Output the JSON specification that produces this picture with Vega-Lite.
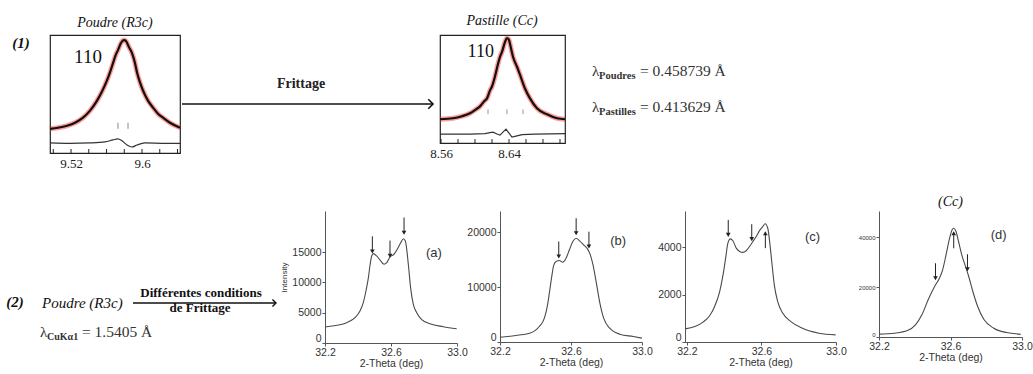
{
"$schema": "https://vega.github.io/schema/vega-lite/v6.json",
"background": "white",
"padding": {"left": 0, "top": 13, "right": 0, "bottom": 0},
"spacing": 23,
"config": {
  "view": {"stroke": null},
  "font": "Liberation Serif",
  "axis": {"grid": false, "domainColor": "#555", "tickColor": "#555", "tickSize": 3, "labelFont": "Liberation Sans Narrow, Liberation Sans", "labelFontSize": 10.5, "labelColor": "#333", "labelPadding": 1, "titleFont": "Liberation Sans Narrow, Liberation Sans", "titleFontSize": 10.5, "titleFontWeight": "normal", "titleColor": "#333", "titlePadding": 3, "labelOverlap": false, "labelFlush": false},
  "axisX": {"labelPadding": 1, "titlePadding": 1}
},
"datasets": {
  "p1": [
    {"x": 9.4963, "y": 20.5}, {"x": 9.5053, "y": 21.4}, {"x": 9.5155, "y": 23.1}, {"x": 9.5245, "y": 25.6},
    {"x": 9.5335, "y": 29.9}, {"x": 9.5414, "y": 35.9}, {"x": 9.5493, "y": 44.4}, {"x": 9.5549, "y": 52.1},
    {"x": 9.5605, "y": 61.5}, {"x": 9.5639, "y": 68.4}, {"x": 9.5673, "y": 76.1}, {"x": 9.5707, "y": 83.8},
    {"x": 9.5729, "y": 87.2}, {"x": 9.5763, "y": 93.2}, {"x": 9.5797, "y": 95.7}, {"x": 9.5819, "y": 94.9},
    {"x": 9.5853, "y": 89.7}, {"x": 9.5887, "y": 84.6}, {"x": 9.5921, "y": 76.1}, {"x": 9.5943, "y": 68.4},
    {"x": 9.5977, "y": 59.8}, {"x": 9.6011, "y": 53.0}, {"x": 9.6067, "y": 44.4}, {"x": 9.6124, "y": 38.5},
    {"x": 9.6180, "y": 33.3}, {"x": 9.6236, "y": 29.9}, {"x": 9.6315, "y": 25.6}, {"x": 9.6428, "y": 21.4}
  ],
  "p1diff": [
    {"x": 9.4963, "y": 8.5}, {"x": 9.5188, "y": 8.1}, {"x": 9.5414, "y": 8.5}, {"x": 9.5583, "y": 9.4},
    {"x": 9.5673, "y": 11.1}, {"x": 9.5729, "y": 12.0}, {"x": 9.5774, "y": 10.3}, {"x": 9.5831, "y": 6.8},
    {"x": 9.5887, "y": 5.1}, {"x": 9.5943, "y": 6.8}, {"x": 9.6033, "y": 8.5}, {"x": 9.6259, "y": 8.1},
    {"x": 9.6428, "y": 8.1}
  ],
  "p1bragg": [{"x": 9.5729}, {"x": 9.5842}],
  "p1ticks": [{"t": 9.50}, {"t": 9.52}, {"t": 9.54}, {"t": 9.56}, {"t": 9.58}, {"t": 9.60}, {"t": 9.62}, {"t": 9.64}],
  "p2": [
    {"x": 8.5588, "y": 22.0}, {"x": 8.5741, "y": 22.9}, {"x": 8.5847, "y": 24.8}, {"x": 8.5941, "y": 27.5},
    {"x": 8.6012, "y": 31.2}, {"x": 8.6059, "y": 33.9}, {"x": 8.6106, "y": 38.5}, {"x": 8.6141, "y": 41.3},
    {"x": 8.6176, "y": 48.6}, {"x": 8.6200, "y": 52.3}, {"x": 8.6235, "y": 61.5}, {"x": 8.6271, "y": 73.4},
    {"x": 8.6294, "y": 79.8}, {"x": 8.6318, "y": 84.4}, {"x": 8.6353, "y": 93.6}, {"x": 8.6376, "y": 97.2},
    {"x": 8.6400, "y": 95.4}, {"x": 8.6412, "y": 91.7}, {"x": 8.6447, "y": 79.8}, {"x": 8.6494, "y": 70.6},
    {"x": 8.6529, "y": 63.3}, {"x": 8.6588, "y": 50.5}, {"x": 8.6647, "y": 41.3}, {"x": 8.6729, "y": 32.1},
    {"x": 8.6847, "y": 26.6}, {"x": 8.6965, "y": 22.9}, {"x": 8.7059, "y": 22.0}
  ],
  "p2diff": [
    {"x": 8.5588, "y": 8.3}, {"x": 8.5941, "y": 8.3}, {"x": 8.6118, "y": 8.7}, {"x": 8.6176, "y": 9.6},
    {"x": 8.6212, "y": 10.1}, {"x": 8.6259, "y": 8.3}, {"x": 8.6294, "y": 7.3}, {"x": 8.6329, "y": 10.1},
    {"x": 8.6365, "y": 12.8}, {"x": 8.6400, "y": 9.2}, {"x": 8.6435, "y": 5.5}, {"x": 8.6482, "y": 6.4},
    {"x": 8.6553, "y": 7.8}, {"x": 8.6706, "y": 8.3}, {"x": 8.7059, "y": 8.7}
  ],
  "p2bragg": [{"x": 8.6153}, {"x": 8.6376}, {"x": 8.6565}],
  "p2ticks": [{"t": 8.56}, {"t": 8.58}, {"t": 8.60}, {"t": 8.62}, {"t": 8.64}, {"t": 8.66}, {"t": 8.68}, {"t": 8.70}],
  "a": [
    {"x": 32.200, "y": 2640}, {"x": 32.271, "y": 2920}, {"x": 32.331, "y": 3350}, {"x": 32.382, "y": 4170},
    {"x": 32.412, "y": 5280}, {"x": 32.432, "y": 6650}, {"x": 32.448, "y": 8580}, {"x": 32.463, "y": 10780},
    {"x": 32.473, "y": 12870}, {"x": 32.483, "y": 14360}, {"x": 32.493, "y": 14740}, {"x": 32.513, "y": 14360},
    {"x": 32.533, "y": 13700}, {"x": 32.558, "y": 12990}, {"x": 32.574, "y": 13250}, {"x": 32.594, "y": 14190},
    {"x": 32.618, "y": 14640}, {"x": 32.638, "y": 15460}, {"x": 32.659, "y": 16550}, {"x": 32.675, "y": 17210},
    {"x": 32.687, "y": 16830}, {"x": 32.705, "y": 13000}, {"x": 32.719, "y": 9100}, {"x": 32.735, "y": 6400},
    {"x": 32.756, "y": 5000}, {"x": 32.786, "y": 3860}, {"x": 32.836, "y": 3180}, {"x": 32.917, "y": 2690},
    {"x": 32.998, "y": 2360}
  ],
  "b": [
    {"x": 32.200, "y": 870}, {"x": 32.289, "y": 1180}, {"x": 32.367, "y": 1600}, {"x": 32.421, "y": 2820},
    {"x": 32.450, "y": 4330}, {"x": 32.468, "y": 6760}, {"x": 32.482, "y": 9780}, {"x": 32.493, "y": 12210},
    {"x": 32.502, "y": 13900}, {"x": 32.516, "y": 14630}, {"x": 32.535, "y": 14810}, {"x": 32.553, "y": 14500},
    {"x": 32.572, "y": 15230}, {"x": 32.591, "y": 16760}, {"x": 32.610, "y": 18270}, {"x": 32.629, "y": 18870},
    {"x": 32.648, "y": 18400}, {"x": 32.671, "y": 17670}, {"x": 32.690, "y": 17050}, {"x": 32.709, "y": 15850},
    {"x": 32.724, "y": 14030}, {"x": 32.743, "y": 10690}, {"x": 32.761, "y": 7360}, {"x": 32.784, "y": 4330},
    {"x": 32.818, "y": 2510}, {"x": 32.875, "y": 1420}, {"x": 32.951, "y": 1000}, {"x": 33.000, "y": 700}
  ],
  "c": [
    {"x": 32.190, "y": 555}, {"x": 32.243, "y": 650}, {"x": 32.287, "y": 840}, {"x": 32.323, "y": 1120},
    {"x": 32.349, "y": 1500}, {"x": 32.376, "y": 2130}, {"x": 32.394, "y": 2830}, {"x": 32.408, "y": 3540},
    {"x": 32.420, "y": 4170}, {"x": 32.433, "y": 4350}, {"x": 32.447, "y": 4270}, {"x": 32.465, "y": 3960},
    {"x": 32.483, "y": 3820}, {"x": 32.500, "y": 3780}, {"x": 32.518, "y": 3850}, {"x": 32.536, "y": 4030},
    {"x": 32.554, "y": 4240}, {"x": 32.572, "y": 4450}, {"x": 32.589, "y": 4690}, {"x": 32.607, "y": 4870},
    {"x": 32.620, "y": 4990}, {"x": 32.634, "y": 4800}, {"x": 32.646, "y": 4100}, {"x": 32.657, "y": 3260},
    {"x": 32.669, "y": 2410}, {"x": 32.687, "y": 1710}, {"x": 32.714, "y": 1220}, {"x": 32.758, "y": 860},
    {"x": 32.820, "y": 580}, {"x": 32.909, "y": 370}, {"x": 32.998, "y": 300}
  ],
  "d": [
    {"x": 32.200, "y": 1130}, {"x": 32.287, "y": 1530}, {"x": 32.359, "y": 2600}, {"x": 32.404, "y": 4870},
    {"x": 32.440, "y": 8870}, {"x": 32.475, "y": 14870}, {"x": 32.511, "y": 20200}, {"x": 32.538, "y": 23530},
    {"x": 32.556, "y": 26870}, {"x": 32.577, "y": 33530}, {"x": 32.595, "y": 39530}, {"x": 32.609, "y": 42870},
    {"x": 32.618, "y": 43530}, {"x": 32.631, "y": 42200}, {"x": 32.645, "y": 38200}, {"x": 32.663, "y": 32870},
    {"x": 32.681, "y": 28870}, {"x": 32.702, "y": 24200}, {"x": 32.725, "y": 18200}, {"x": 32.752, "y": 12200},
    {"x": 32.788, "y": 6870}, {"x": 32.842, "y": 3530}, {"x": 32.913, "y": 1800}, {"x": 32.994, "y": 1130}
  ],
  "arrows": [
    {"panel": "a", "x": 32.487, "tip": 15100, "tail": 17600, "dir": "down"},
    {"panel": "a", "x": 32.594, "tip": 14400, "tail": 16900, "dir": "down"},
    {"panel": "a", "x": 32.679, "tip": 18200, "tail": 20700, "dir": "down"},
    {"panel": "b", "x": 32.531, "tip": 15540, "tail": 18270, "dir": "down"},
    {"panel": "b", "x": 32.629, "tip": 19780, "tail": 22500, "dir": "down"},
    {"panel": "b", "x": 32.701, "tip": 17360, "tail": 20060, "dir": "down"},
    {"panel": "c", "x": 32.422, "tip": 4520, "tail": 5150, "dir": "down"},
    {"panel": "c", "x": 32.548, "tip": 4340, "tail": 4970, "dir": "down"},
    {"panel": "c", "x": 32.621, "tip": 4590, "tail": 3960, "dir": "up"},
    {"panel": "d", "x": 32.516, "tip": 23530, "tail": 29500, "dir": "down"},
    {"panel": "d", "x": 32.618, "tip": 41530, "tail": 35500, "dir": "up"},
    {"panel": "d", "x": 32.695, "tip": 27130, "tail": 33100, "dir": "down"}
  ]
},
"vconcat": [
 {"hconcat": [
   {
    "width": 50, "height": 118,
    "data": {"values": [{"label": "(1)"}]},
    "mark": {"type": "text", "font": "Liberation Serif", "fontSize": 15, "fontWeight": "bold", "fontStyle": "italic", "color": "#111"},
    "encoding": {
      "x": {"datum": 21, "type": "quantitative", "scale": {"domain": [0, 50], "nice": false, "zero": false}, "axis": null},
      "y": {"datum": 8, "type": "quantitative", "scale": {"domain": [0, 118], "nice": false, "reverse": true}, "axis": null},
      "text": {"field": "label"}
    }
   },
   {
    "width": 130, "height": 118,
    "view": {"stroke": "#222", "strokeWidth": 1.2},
    "layer": [
      {"data": {"name": "p1"}, "mark": {"type": "line", "color": "#ff2a22", "strokeWidth": 5, "opacity": 0.45, "interpolate": "monotone"},
       "encoding": {
         "x": {"field": "x", "type": "quantitative", "scale": {"domain": [9.4963, 9.6428], "nice": false, "zero": false},
           "axis": {"title": null, "values": [9.52, 9.6], "format": ".2~f", "ticks": false, "domain": false,
             "labelFont": "Liberation Serif", "labelFontSize": 13, "labelColor": "#222", "labelPadding": 4}},
         "y": {"field": "y", "type": "quantitative", "scale": {"domain": [0, 100], "nice": false, "zero": false}, "axis": null}
       }},
      {"data": {"name": "p1"}, "mark": {"type": "line", "color": "#111", "strokeWidth": 2.2, "interpolate": "monotone"},
       "encoding": {"x": {"field": "x", "type": "quantitative"}, "y": {"field": "y", "type": "quantitative"}}},
      {"data": {"name": "p1diff"}, "mark": {"type": "line", "color": "#333", "strokeWidth": 1.2, "interpolate": "monotone"},
       "encoding": {"x": {"field": "x", "type": "quantitative"}, "y": {"field": "y", "type": "quantitative"}}},
      {"data": {"name": "p1bragg"}, "mark": {"type": "rule", "color": "#888", "strokeWidth": 1},
       "encoding": {"x": {"field": "x", "type": "quantitative"}, "y": {"datum": 20.5, "type": "quantitative"}, "y2": {"datum": 25.6}}},
      {"data": {"name": "p1ticks"}, "mark": {"type": "rule", "color": "#222", "strokeWidth": 1},
       "encoding": {"x": {"field": "t", "type": "quantitative"}, "y": {"datum": 0, "type": "quantitative"}, "y2": {"datum": 3.4}}},
      {"data": {"values": [{"label": "110", "title": "Poudre (R3c)"}]}, "layer": [
        {"mark": {"type": "text", "font": "Liberation Serif", "fontSize": 19, "color": "#111"},
         "encoding": {"x": {"datum": 9.5391, "type": "quantitative"}, "y": {"datum": 81, "type": "quantitative"}, "text": {"field": "label"}}},
        {"mark": {"type": "text", "font": "Liberation Serif", "fontSize": 14, "fontStyle": "italic", "color": "#111", "baseline": "alphabetic"},
         "encoding": {"x": {"datum": 9.5695, "type": "quantitative"}, "y": {"datum": 106.5, "type": "quantitative"}, "text": {"field": "title"}}}
      ]}
    ]
   },
   {
    "width": 260, "height": 118,
    "data": {"values": [{"label": "Frittage"}]},
    "layer": [
      {"mark": {"type": "rule", "color": "#111", "strokeWidth": 1.6},
       "encoding": {
         "x": {"datum": 2, "type": "quantitative", "scale": {"domain": [0, 260], "nice": false, "zero": false}, "axis": null},
         "x2": {"datum": 253},
         "y": {"datum": 69, "type": "quantitative", "scale": {"domain": [0, 118], "nice": false, "reverse": true}, "axis": null}}},
      {"mark": {"type": "point", "shape": "M-1,-1L0,0L-1,1", "size": 90, "filled": false, "color": "#111", "strokeWidth": 1.6, "opacity": 1},
       "encoding": {"x": {"datum": 253, "type": "quantitative"}, "y": {"datum": 69, "type": "quantitative"}}},
      {"mark": {"type": "text", "font": "Liberation Serif", "fontWeight": "bold", "fontSize": 14, "color": "#222", "baseline": "alphabetic"},
       "encoding": {"x": {"datum": 121, "type": "quantitative"}, "y": {"datum": 53, "type": "quantitative"}, "text": {"field": "label"}}}
    ]
   },
   {
    "width": 125, "height": 108,
    "view": {"stroke": "#222", "strokeWidth": 1.2},
    "layer": [
      {"data": {"name": "p2"}, "mark": {"type": "line", "color": "#ff2a22", "strokeWidth": 5, "opacity": 0.45, "interpolate": "monotone"},
       "encoding": {
         "x": {"field": "x", "type": "quantitative", "scale": {"domain": [8.5588, 8.7059], "nice": false, "zero": false},
           "axis": {"title": null, "values": [8.56, 8.64], "format": ".2~f", "ticks": false, "domain": false,
             "labelFont": "Liberation Serif", "labelFontSize": 13, "labelColor": "#222", "labelPadding": 4}},
         "y": {"field": "y", "type": "quantitative", "scale": {"domain": [0, 100], "nice": false, "zero": false}, "axis": null}
       }},
      {"data": {"name": "p2"}, "mark": {"type": "line", "color": "#111", "strokeWidth": 2.2, "interpolate": "monotone"},
       "encoding": {"x": {"field": "x", "type": "quantitative"}, "y": {"field": "y", "type": "quantitative"}}},
      {"data": {"name": "p2diff"}, "mark": {"type": "line", "color": "#333", "strokeWidth": 1.2, "interpolate": "linear"},
       "encoding": {"x": {"field": "x", "type": "quantitative"}, "y": {"field": "y", "type": "quantitative"}}},
      {"data": {"name": "p2bragg"}, "mark": {"type": "rule", "color": "#999", "strokeWidth": 1},
       "encoding": {"x": {"field": "x", "type": "quantitative"}, "y": {"datum": 26.6, "type": "quantitative"}, "y2": {"datum": 31.2}}},
      {"data": {"name": "p2ticks"}, "mark": {"type": "rule", "color": "#222", "strokeWidth": 1},
       "encoding": {"x": {"field": "t", "type": "quantitative"}, "y": {"datum": 0, "type": "quantitative"}, "y2": {"datum": 3.7}}},
      {"data": {"values": [{"label": "110", "title": "Pastille (Cc)"}]}, "layer": [
        {"mark": {"type": "text", "font": "Liberation Serif", "fontSize": 18, "color": "#111"},
         "encoding": {"x": {"datum": 8.6068, "type": "quantitative"}, "y": {"datum": 84, "type": "quantitative"}, "text": {"field": "label"}}},
        {"mark": {"type": "text", "font": "Liberation Serif", "fontSize": 14, "fontStyle": "italic", "color": "#111", "baseline": "alphabetic"},
         "encoding": {"x": {"datum": 8.6318, "type": "quantitative"}, "y": {"datum": 109, "type": "quantitative"}, "text": {"field": "title"}}}
      ]}
    ]
   },
   {
    "width": 195, "height": 118,
    "data": {"values": [
      {"line": "1", "sym": "λ", "sub": "Poudres", "val": "= 0.458739 Å"},
      {"line": "2", "sym": "λ", "sub": "Pastilles", "val": "= 0.413629 Å"}
    ]},
    "encoding": {"y": {"field": "line", "type": "ordinal", "scale": {"type": "point", "range": [41, 77], "padding": 0}, "axis": null}},
    "layer": [
      {"mark": {"type": "text", "align": "left", "baseline": "alphabetic", "font": "Liberation Serif", "fontSize": 15, "color": "#333"},
       "encoding": {"x": {"datum": 27, "type": "quantitative", "scale": {"domain": [0, 195], "nice": false, "zero": false}, "axis": null}, "text": {"field": "sym"}}},
      {"mark": {"type": "text", "align": "left", "baseline": "alphabetic", "font": "Liberation Serif", "fontSize": 10.5, "fontWeight": "bold", "color": "#333", "dy": 3},
       "encoding": {"x": {"datum": 34, "type": "quantitative"}, "text": {"field": "sub"}}},
      {"mark": {"type": "text", "align": "left", "baseline": "alphabetic", "font": "Liberation Serif", "fontSize": 15.5, "color": "#333"},
       "encoding": {"x": {"datum": 75, "type": "quantitative"}, "text": {"field": "val"}}}
    ]
   }
  ], "spacing": 0, "bounds": "flush"},
 {"hconcat": [
   {
    "width": 282, "height": 132,
    "data": {"values": [{"num": "(2)", "from": "Poudre (R3c)", "top": "Différentes conditions", "bottom": "de Frittage", "sym": "λ", "sub": "CuKα1", "val": "= 1.5405 Å"}]},
    "layer": [
      {"mark": {"type": "text", "align": "center", "baseline": "alphabetic", "font": "Liberation Serif", "fontSize": 15, "fontWeight": "bold", "fontStyle": "italic", "color": "#111"},
       "encoding": {
         "x": {"datum": 15, "type": "quantitative", "scale": {"domain": [0, 282], "nice": false, "zero": false}, "axis": null},
         "y": {"datum": 96, "type": "quantitative", "scale": {"domain": [0, 132], "nice": false, "reverse": true}, "axis": null},
         "text": {"field": "num"}}},
      {"mark": {"type": "text", "align": "left", "baseline": "alphabetic", "font": "Liberation Serif", "fontSize": 15, "fontStyle": "italic", "color": "#111"},
       "encoding": {"x": {"datum": 42, "type": "quantitative"}, "y": {"datum": 97, "type": "quantitative"}, "text": {"field": "from"}}},
      {"mark": {"type": "text", "align": "center", "baseline": "alphabetic", "font": "Liberation Serif", "fontSize": 13, "fontWeight": "bold", "color": "#111"},
       "encoding": {"x": {"datum": 201, "type": "quantitative"}, "y": {"datum": 86, "type": "quantitative"}, "text": {"field": "top"}}},
      {"mark": {"type": "rule", "color": "#111", "strokeWidth": 1.3},
       "encoding": {"x": {"datum": 133, "type": "quantitative"}, "x2": {"datum": 276}, "y": {"datum": 92, "type": "quantitative"}}},
      {"mark": {"type": "point", "shape": "M-1,-1L0,0L-1,1", "size": 50, "filled": false, "color": "#111", "strokeWidth": 1.4, "opacity": 1},
       "encoding": {"x": {"datum": 276, "type": "quantitative"}, "y": {"datum": 92, "type": "quantitative"}}},
      {"mark": {"type": "text", "align": "center", "baseline": "alphabetic", "font": "Liberation Serif", "fontSize": 13, "fontWeight": "bold", "color": "#111"},
       "encoding": {"x": {"datum": 200, "type": "quantitative"}, "y": {"datum": 101, "type": "quantitative"}, "text": {"field": "bottom"}}},
      {"mark": {"type": "text", "align": "left", "baseline": "alphabetic", "font": "Liberation Serif", "fontSize": 15, "color": "#333"},
       "encoding": {"x": {"datum": 40, "type": "quantitative"}, "y": {"datum": 126, "type": "quantitative"}, "text": {"field": "sym"}}},
      {"mark": {"type": "text", "align": "left", "baseline": "alphabetic", "font": "Liberation Serif", "fontSize": 10, "fontWeight": "bold", "color": "#333", "dy": 3},
       "encoding": {"x": {"datum": 47, "type": "quantitative"}, "y": {"datum": 126, "type": "quantitative"}, "text": {"field": "sub"}}},
      {"mark": {"type": "text", "align": "left", "baseline": "alphabetic", "font": "Liberation Serif", "fontSize": 15.5, "color": "#333"},
       "encoding": {"x": {"datum": 82, "type": "quantitative"}, "y": {"datum": 126, "type": "quantitative"}, "text": {"field": "val"}}}
    ]
   },
   {
    "width": 132, "height": 132,
    "layer": [
      {"data": {"name": "a"}, "mark": {"type": "line", "color": "#4a4a4a", "strokeWidth": 1.1, "interpolate": "monotone"},
       "encoding": {
         "x": {"field": "x", "type": "quantitative", "scale": {"domain": [32.2, 33.0], "nice": false, "zero": false}, "axis": {"title": "2-Theta (deg)", "values": [32.2, 32.4, 32.6, 32.8, 33.0], "format": ".1f"}},
         "y": {"field": "y", "type": "quantitative", "scale": {"domain": [0, 21780], "nice": false}, "axis": {"title": "Intensity", "values": [0, 5000, 10000, 15000], "format": "d", "titleFontSize": 8, "labelBaseline": {"condition": {"test": "datum.value === 0", "value": "bottom"}, "value": "middle"}}}}},
      {"data": {"name": "arrows"}, "transform": [{"filter": "datum.panel === 'a'"}], "mark": {"type": "rule", "color": "#222", "strokeWidth": 1},
       "encoding": {"x": {"field": "x", "type": "quantitative"}, "y": {"field": "tail", "type": "quantitative"}, "y2": {"field": "tip"}}},
      {"data": {"name": "arrows"}, "transform": [{"filter": "datum.panel === 'a'"}], "mark": {"type": "point", "filled": true, "color": "#222", "size": 22, "opacity": 1},
       "encoding": {"x": {"field": "x", "type": "quantitative"}, "y": {"field": "tip", "type": "quantitative"}, "shape": {"field": "dir", "type": "nominal", "scale": {"domain": ["down", "up"], "range": ["triangle-down", "triangle-up"]}, "legend": null}}},
      {"data": {"values": [{"label": "(a)"}]}, "mark": {"type": "text", "font": "Liberation Sans", "fontSize": 13, "color": "#333"},
       "encoding": {"x": {"datum": 32.86, "type": "quantitative"}, "y": {"datum": 14900, "type": "quantitative"}, "text": {"field": "label"}}}
    ]
   },
   {
    "width": 142, "height": 131,
    "layer": [
      {"data": {"name": "b"}, "mark": {"type": "line", "color": "#4a4a4a", "strokeWidth": 1.1, "interpolate": "monotone"},
       "encoding": {
         "x": {"field": "x", "type": "quantitative", "scale": {"domain": [32.2, 33.0], "nice": false, "zero": false}, "axis": {"title": "2-Theta (deg)", "values": [32.2, 32.4, 32.6, 32.8, 33.0], "format": ".1f"}},
         "y": {"field": "y", "type": "quantitative", "scale": {"domain": [0, 23820], "nice": false}, "axis": {"title": null, "values": [0, 5000, 10000, 15000, 20000], "format": "d", "labelBaseline": {"condition": {"test": "datum.value === 0", "value": "bottom"}, "value": "middle"}}}}},
      {"data": {"name": "arrows"}, "transform": [{"filter": "datum.panel === 'b'"}], "mark": {"type": "rule", "color": "#222", "strokeWidth": 1},
       "encoding": {"x": {"field": "x", "type": "quantitative"}, "y": {"field": "tail", "type": "quantitative"}, "y2": {"field": "tip"}}},
      {"data": {"name": "arrows"}, "transform": [{"filter": "datum.panel === 'b'"}], "mark": {"type": "point", "filled": true, "color": "#222", "size": 22, "opacity": 1},
       "encoding": {"x": {"field": "x", "type": "quantitative"}, "y": {"field": "tip", "type": "quantitative"}, "shape": {"field": "dir", "type": "nominal", "scale": {"domain": ["down", "up"], "range": ["triangle-down", "triangle-up"]}, "legend": null}}},
      {"data": {"values": [{"label": "(b)"}]}, "mark": {"type": "text", "font": "Liberation Sans", "fontSize": 13, "color": "#333"},
       "encoding": {"x": {"datum": 32.866, "type": "quantitative"}, "y": {"datum": 18400, "type": "quantitative"}, "text": {"field": "label"}}}
    ]
   },
   {
    "width": 151, "height": 131,
    "layer": [
      {"data": {"name": "c"}, "mark": {"type": "line", "color": "#4a4a4a", "strokeWidth": 1.1, "interpolate": "monotone"},
       "encoding": {
         "x": {"field": "x", "type": "quantitative", "scale": {"domain": [32.19, 33.0], "nice": false, "zero": false}, "axis": {"title": "2-Theta (deg)", "values": [32.2, 32.4, 32.6, 32.8, 33.0], "format": ".1f"}},
         "y": {"field": "y", "type": "quantitative", "scale": {"domain": [0, 5527], "nice": false}, "axis": {"title": null, "values": [0, 1000, 2000, 3000, 4000, 5000], "format": "d", "labelBaseline": {"condition": {"test": "datum.value === 0", "value": "bottom"}, "value": "middle"}}}}},
      {"data": {"name": "arrows"}, "transform": [{"filter": "datum.panel === 'c'"}], "mark": {"type": "rule", "color": "#222", "strokeWidth": 1},
       "encoding": {"x": {"field": "x", "type": "quantitative"}, "y": {"field": "tail", "type": "quantitative"}, "y2": {"field": "tip"}}},
      {"data": {"name": "arrows"}, "transform": [{"filter": "datum.panel === 'c'"}], "mark": {"type": "point", "filled": true, "color": "#222", "size": 22, "opacity": 1},
       "encoding": {"x": {"field": "x", "type": "quantitative"}, "y": {"field": "tip", "type": "quantitative"}, "shape": {"field": "dir", "type": "nominal", "scale": {"domain": ["down", "up"], "range": ["triangle-down", "triangle-up"]}, "legend": null}}},
      {"data": {"values": [{"label": "(c)"}]}, "mark": {"type": "text", "font": "Liberation Sans", "fontSize": 13, "color": "#333"},
       "encoding": {"x": {"datum": 32.874, "type": "quantitative"}, "y": {"datum": 4450, "type": "quantitative"}, "text": {"field": "label"}}}
    ]
   },
   {
    "width": 143, "height": 126,
    "layer": [
      {"data": {"name": "d"}, "mark": {"type": "line", "color": "#4a4a4a", "strokeWidth": 1.1, "interpolate": "monotone"},
       "encoding": {
         "x": {"field": "x", "type": "quantitative", "scale": {"domain": [32.2, 33.0], "nice": false, "zero": false}, "axis": {"title": "2-Theta (deg)", "values": [32.2, 32.4, 32.6, 32.8, 33.0], "format": ".1f"}},
         "y": {"field": "y", "type": "quantitative", "scale": {"domain": [0, 50400], "nice": false}, "axis": {"title": null, "values": [0, 10000, 20000, 30000, 40000, 50000], "format": "d", "labelFontSize": 6, "labelBaseline": {"condition": {"test": "datum.value === 0", "value": "bottom"}, "value": "middle"}}}}},
      {"data": {"name": "arrows"}, "transform": [{"filter": "datum.panel === 'd'"}], "mark": {"type": "rule", "color": "#222", "strokeWidth": 1},
       "encoding": {"x": {"field": "x", "type": "quantitative"}, "y": {"field": "tail", "type": "quantitative"}, "y2": {"field": "tip"}}},
      {"data": {"name": "arrows"}, "transform": [{"filter": "datum.panel === 'd'"}], "mark": {"type": "point", "filled": true, "color": "#222", "size": 22, "opacity": 1},
       "encoding": {"x": {"field": "x", "type": "quantitative"}, "y": {"field": "tip", "type": "quantitative"}, "shape": {"field": "dir", "type": "nominal", "scale": {"domain": ["down", "up"], "range": ["triangle-down", "triangle-up"]}, "legend": null}}},
      {"data": {"values": [{"label": "(d)", "title": "(Cc)"}]}, "layer": [
        {"mark": {"type": "text", "font": "Liberation Sans", "fontSize": 13, "color": "#333"},
         "encoding": {"x": {"datum": 32.869, "type": "quantitative"}, "y": {"datum": 40900, "type": "quantitative"}, "text": {"field": "label"}}},
        {"mark": {"type": "text", "font": "Liberation Serif", "fontSize": 14, "fontStyle": "italic", "color": "#111", "baseline": "alphabetic"},
         "encoding": {"x": {"datum": 32.6, "type": "quantitative"}, "y": {"datum": 52400, "type": "quantitative"}, "text": {"field": "title"}}}
      ]}
    ]
   }
  ], "spacing": 43, "bounds": "flush"}
]
}
